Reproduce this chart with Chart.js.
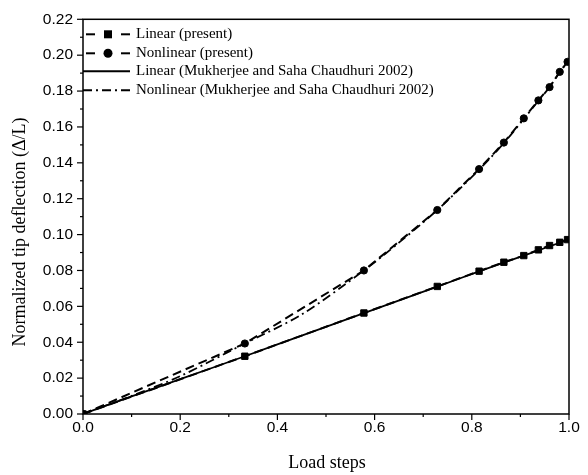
<!DOCTYPE html>
<html lang="en">
<head>
  <meta charset="UTF-8" />
  <title>Normalized tip deflection vs load steps</title>
  <script src="https://cdn.jsdelivr.net/npm/chart.js"></script>
  <style>
    * { margin: 0; padding: 0; box-sizing: border-box; }
    body { background: #fff; width: 588px; height: 475px; overflow: hidden; }
    #wrap { position: relative; width: 588px; height: 475px; }
  </style>
</head>
<body>
<div id="wrap"><canvas id="chart" width="588" height="475"></canvas></div>
<script>
// load steps where the present results were computed
const presentSteps = [0, 0.333, 0.578, 0.729, 0.815, 0.866, 0.907, 0.937, 0.960, 0.981, 0.997];
const linearPresent = [0, 0.0322, 0.0563, 0.0711, 0.0796, 0.0846, 0.0883, 0.0915, 0.0939, 0.0957, 0.0972];
const nonlinearPresent = [0, 0.0393, 0.0800, 0.1137, 0.1365, 0.1513, 0.1648, 0.1748, 0.1822, 0.1907, 0.1963];

// reference curves (Mukherjee and Saha Chaudhuri 2002)
const refLinearSteps = [0, 0.1, 0.2, 0.333, 0.45, 0.578, 0.729, 0.815, 0.907, 1.0];
const refLinearValues = [0, 0.0098, 0.0194, 0.0322, 0.0437, 0.0562, 0.0710, 0.0795, 0.0883, 0.0973];
const refNonlinSteps = [0, 0.1, 0.2, 0.333, 0.45, 0.578, 0.65, 0.729, 0.815, 0.866, 0.907, 0.937, 0.960, 0.981, 1.0];
const refNonlinValues = [0, 0.0101, 0.0211, 0.0393, 0.0555, 0.0800, 0.0955, 0.1137, 0.1362, 0.1510, 0.1645, 0.1745, 0.1822, 0.1905, 0.1975];

const legendLabels = [
  "Linear (present)",
  "Nonlinear (present)",
  "Linear (Mukherjee and Saha Chaudhuri 2002)",
  "Nonlinear (Mukherjee and Saha Chaudhuri 2002)"
];

const xTitle = "Load steps";
const yTitle = "Normalized tip deflection (\u0394/L)";

const serif = "'Liberation Serif', 'Times New Roman', serif";
const sans = "'Liberation Sans', Arial, sans-serif";

function pts(xs, ys) { return xs.map((x, i) => ({ x: x, y: ys[i] })); }

// frame, ticks (minor ones shorter) and axis titles
const axesPlugin = {
  id: "axesDeco",
  afterDraw(chart) {
    const ctx = chart.ctx, a = chart.chartArea;
    const xs = chart.scales.x, ys = chart.scales.y;
    ctx.save();
    ctx.strokeStyle = "#000";
    ctx.lineWidth = 1.5;
    ctx.strokeRect(a.left, a.top, a.right - a.left, a.bottom - a.top);
    ctx.lineWidth = 1.2;
    for (let i = 0; i <= 10; i++) {
      const px = xs.getPixelForValue(i / 10);
      const len = i % 2 === 0 ? 6 : 3;
      ctx.beginPath(); ctx.moveTo(px, a.bottom); ctx.lineTo(px, a.bottom + len); ctx.stroke();
    }
    for (let i = 0; i <= 22; i++) {
      const py = ys.getPixelForValue(i / 100);
      const len = i % 2 === 0 ? 6 : 3;
      ctx.beginPath(); ctx.moveTo(a.left, py); ctx.lineTo(a.left - len, py); ctx.stroke();
    }
    ctx.fillStyle = "#000";
    ctx.font = "18px " + serif;
    ctx.textAlign = "center";
    ctx.textBaseline = "middle";
    ctx.fillText(xTitle, (a.left + a.right) / 2 + 1, 463);
    ctx.translate(20, 232);
    ctx.rotate(-Math.PI / 2);
    ctx.fillText(yTitle, 0, 0);
    ctx.restore();
  }
};

// legend inside the plot, top-left
const legendPlugin = {
  id: "innerLegend",
  afterDraw(chart) {
    const ctx = chart.ctx, a = chart.chartArea;
    const x0 = a.left + 3, x1 = a.left + 47;
    const rows = [a.top + 15, a.top + 34, a.top + 52, a.top + 71];
    ctx.save();
    ctx.strokeStyle = "#000"; ctx.fillStyle = "#000"; ctx.lineWidth = 2;
    [0, 1].forEach(r => {
      const y = rows[r];
      ctx.beginPath(); ctx.moveTo(x0, y); ctx.lineTo(x0 + 9, y); ctx.stroke();
      ctx.beginPath(); ctx.moveTo(x1 - 9, y); ctx.lineTo(x1, y); ctx.stroke();
      const cx = (x0 + x1) / 2;
      if (r === 0) ctx.fillRect(cx - 4, y - 4, 8, 8);
      else { ctx.beginPath(); ctx.arc(cx, y, 4.5, 0, Math.PI * 2); ctx.fill(); }
    });
    ctx.beginPath(); ctx.moveTo(x0 - 3, rows[2]); ctx.lineTo(x1, rows[2]); ctx.stroke();
    ctx.setLineDash([9, 4, 2, 4]);
    ctx.beginPath(); ctx.moveTo(x0 - 3, rows[3]); ctx.lineTo(x1, rows[3]); ctx.stroke();
    ctx.setLineDash([]);
    ctx.font = "15px " + serif;
    ctx.textBaseline = "middle";
    legendLabels.forEach((t, i) => ctx.fillText(t, x1 + 6, rows[i]));
    ctx.restore();
  }
};

new Chart(document.getElementById("chart"), {
  type: "scatter",
  data: {
    datasets: [
      {
        label: legendLabels[0], data: pts(presentSteps, linearPresent), showLine: true,
        borderColor: "#000", backgroundColor: "#000", borderWidth: 2, borderDash: [9, 5],
        pointStyle: "rect", pointRadius: 4.5, pointBorderWidth: 1, pointHoverRadius: 4.5
      },
      {
        label: legendLabels[1], data: pts(presentSteps, nonlinearPresent), showLine: true,
        borderColor: "#000", backgroundColor: "#000", borderWidth: 2, borderDash: [9, 5],
        pointStyle: "circle", pointRadius: 3.6, pointBorderWidth: 1, pointHoverRadius: 3.6
      },
      {
        label: legendLabels[2], data: pts(refLinearSteps, refLinearValues), showLine: true,
        borderColor: "#000", borderWidth: 1.8, pointRadius: 0, tension: 0.3
      },
      {
        label: legendLabels[3], data: pts(refNonlinSteps, refNonlinValues), showLine: true,
        borderColor: "#000", borderWidth: 1.8, borderDash: [9, 4, 2, 4], pointRadius: 0, tension: 0.3
      }
    ]
  },
  options: {
    responsive: false,
    animation: false,
    layout: { padding: { top: 18, right: 19, left: 0, bottom: 0 } },
    plugins: { legend: { display: false }, tooltip: { enabled: false } },
    scales: {
      x: {
        type: "linear", min: 0, max: 1,
        grid: { display: false, drawTicks: false },
        border: { display: false },
        ticks: {
          stepSize: 0.2, padding: 4, color: "#000",
          font: { family: sans, size: 15.5 },
          callback: v => v.toFixed(1)
        },
        afterFit: s => { s.height = 61; }
      },
      y: {
        type: "linear", min: 0, max: 0.22,
        grid: { display: false, drawTicks: false },
        border: { display: false },
        ticks: {
          stepSize: 0.02, padding: 10, color: "#000",
          font: { family: sans, size: 15.5 },
          callback: v => v.toFixed(2)
        },
        afterFit: s => { s.width = 83; }
      }
    }
  },
  plugins: [axesPlugin, legendPlugin]
});
</script>
</body>
</html>
